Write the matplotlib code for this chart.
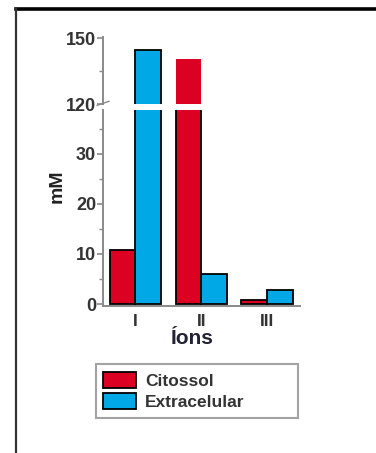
import matplotlib
matplotlib.use("Agg")
import matplotlib.pyplot as plt
from matplotlib.lines import Line2D
import numpy as np

plt.rcParams["font.family"] = ["Liberation Sans", "DejaVu Sans"]

# Data
IONS = ["I", "II", "III"]
CITOSSOL = [10.8, 140.5, 0.8]
EXTRACELULAR = [144.5, 6.0, 2.8]

RED = "#DC0022"
BLUE = "#00A8E6"
TXT = "#333333"
SPINE = "#8a8a8a"

fig = plt.figure(figsize=(3.76, 4.53), dpi=100)
ax_top = fig.add_axes([0.274, 0.7704, 0.524, 0.148])
ax_bot = fig.add_axes([0.274, 0.3245, 0.524, 0.4327])

x = np.arange(len(IONS))
w = 0.39

for ax, red_edge in ((ax_top, "none"), (ax_bot, "black")):
    ax.bar(x - w / 2, CITOSSOL, w, color=RED, edgecolor=red_edge, lw=1.3,
           label="Citossol")
    ax.bar(x + w / 2, EXTRACELULAR, w, color=BLUE, edgecolor="black", lw=1.3,
           label="Extracelular")
    ax.set_xlim(-0.49, 2.5)
    for s in ("top", "right"):
        ax.spines[s].set_visible(False)
    ax.spines["left"].set_color(SPINE)
    ax.spines["left"].set_linewidth(1.4)
    ax.tick_params(axis="y", colors=SPINE, labelcolor=TXT, length=4, width=1.2,
                   pad=1, labelsize=13)
    ax.tick_params(axis="y", which="minor", colors=SPINE, length=3, width=1.0)

# upper panel
ax_top.set_ylim(120, 150.5)
ax_top.set_yticks([120, 150])
ax_top.set_yticks([135], minor=True)
ax_top.set_yticklabels(["120", "150"], fontweight="bold")
ax_top.spines["bottom"].set_visible(False)
ax_top.set_xticks([])

# lower panel
ax_bot.set_ylim(-0.4, 38.8)
ax_bot.set_yticks([0, 10, 20, 30])
ax_bot.set_yticks([5, 15, 25, 35], minor=True)
ax_bot.set_yticklabels(["0", "10", "20", "30"], fontweight="bold")
ax_bot.spines["bottom"].set_color(SPINE)
ax_bot.spines["bottom"].set_linewidth(1.4)
ax_bot.set_xticks(x)
ax_bot.set_xticklabels(IONS, fontweight="bold", fontsize=12.5, color=TXT)
ax_bot.tick_params(axis="x", colors=SPINE, labelcolor=TXT, length=0, pad=6)

# break mark on the y axis
ax_top.plot([-0.03, 0.03], [-0.02, 0.04], transform=ax_top.transAxes,
            color=SPINE, lw=1.0, clip_on=False)

fig.text(57 / 376, 1 - 186 / 453, "mM", rotation=90, ha="center", va="center",
         fontsize=14, fontweight="bold", color="#222222")
fig.text(192 / 376, 1 - 338 / 453, "Íons", ha="center", va="center",
         fontsize=15, fontweight="bold", color="#222233")

handles, labels = ax_bot.get_legend_handles_labels()
leg = fig.legend(handles, labels, bbox_to_anchor=(87 / 376, 1 - 419 / 453, 220 / 376, 56 / 453),
                 loc="center left", mode="expand", fontsize=12.5, frameon=True,
                 fancybox=False, handlelength=1.9, handleheight=1.0,
                 labelspacing=0.25, handletextpad=0.5, borderpad=0.45)
leg.get_frame().set_edgecolor("#8c8c8c")
leg.get_frame().set_linewidth(1.5)
for t in leg.get_texts():
    t.set_color(TXT)
    t.set_fontweight("bold")

# outer frame
fig.add_artist(Line2D([16 / 376, 1.0], [1 - 9 / 453, 1 - 9 / 453], color="black", lw=2.6))
fig.add_artist(Line2D([16 / 376, 16 / 376], [1 - 9 / 453, 0.0], color="#333333", lw=1.6))

fig.savefig("out.png", dpi=100)
